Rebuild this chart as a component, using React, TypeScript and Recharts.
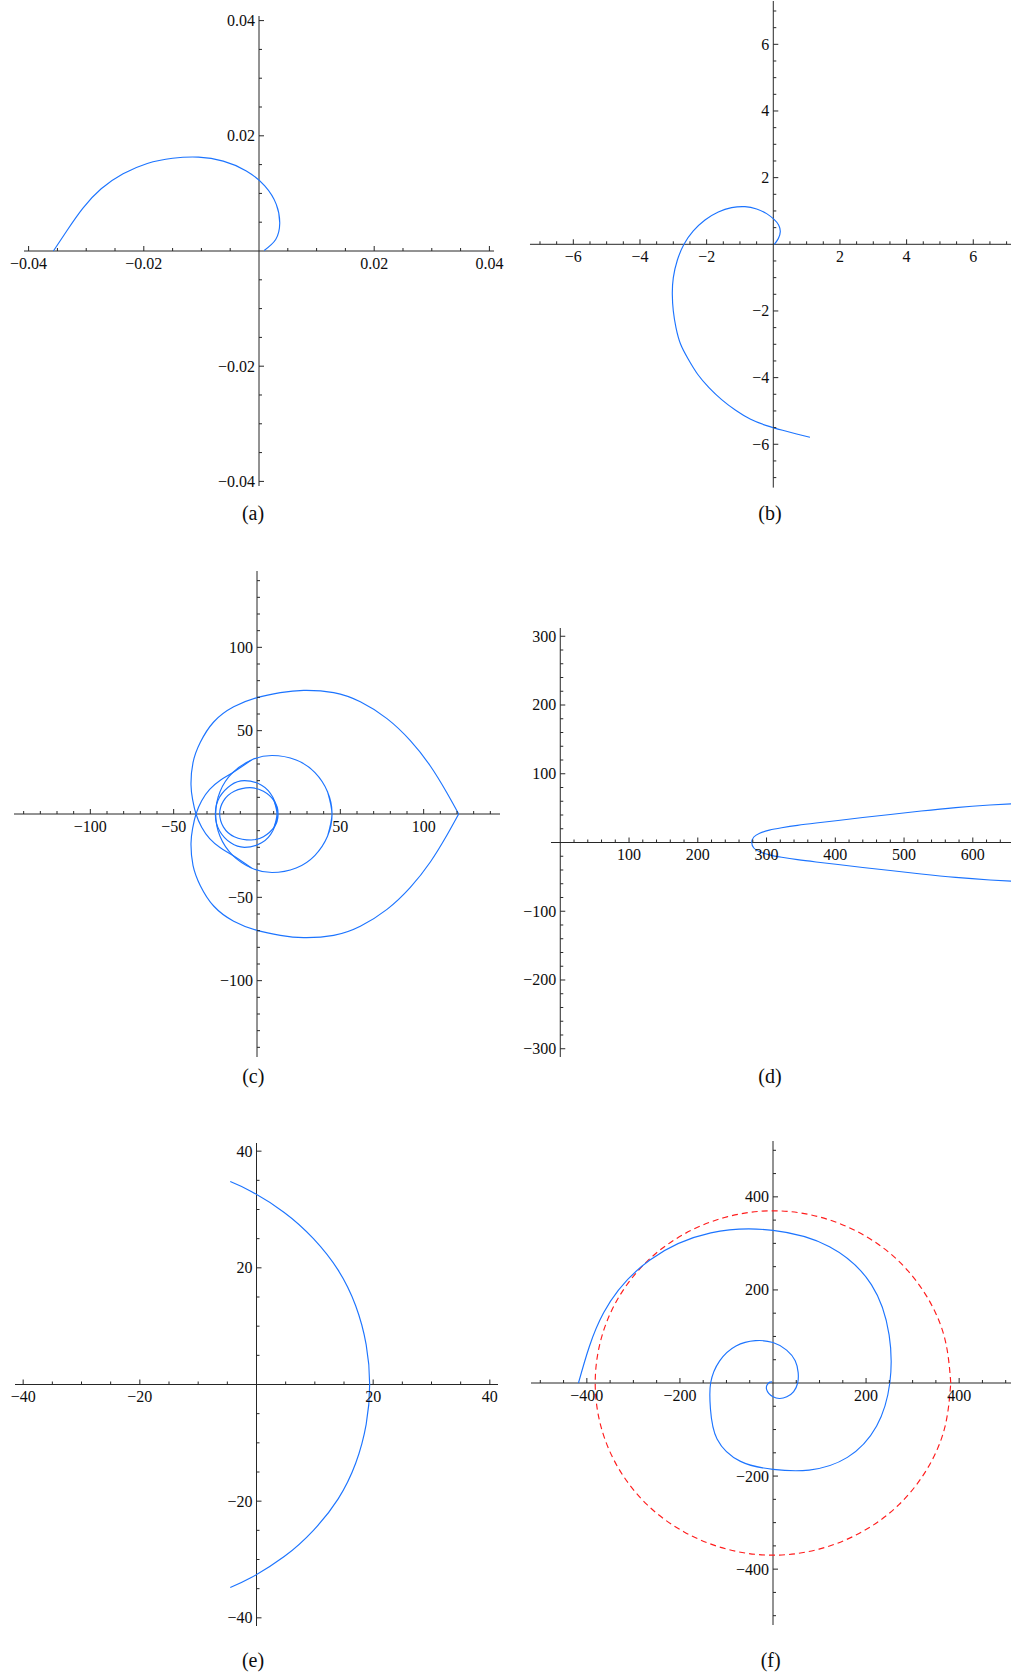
import React from "react";
import { ComposedChart, Line, XAxis, YAxis, ReferenceLine, ReferenceDot } from "recharts";

const FONT = "'Liberation Serif', 'Times New Roman', Times, serif";
const AXIS = "#262626";
const TEXT = "#0d0d0d";
const BLUE = "#1c74ff";
const RED = "#ff1c1c";

// ---------- curve samples (x, y) ----------
const curveA: number[][] = [
  [-0.0357, 0], [-0.0333, 0.0036], [-0.0306, 0.0074], [-0.0274, 0.0108], [-0.0236, 0.0134],
  [-0.0194, 0.0152], [-0.015, 0.0161], [-0.0105, 0.0163], [-0.0062, 0.0156], [-0.0022, 0.0139],
  [0.001, 0.0113], [0.003, 0.0081], [0.0036, 0.0048], [0.0029, 0.002], [0.0009, 0.0001],
];

const curveB: number[][] = [
  [0.03, 0], [0.15, 0.17], [0.21, 0.38], [0.16, 0.58], [0.03, 0.74], [-0.2, 0.92], [-0.5, 1.06],
  [-0.85, 1.13], [-1.25, 1.1], [-1.65, 0.97], [-2.05, 0.73], [-2.4, 0.4], [-2.68, 0], [-2.88, -0.48],
  [-3.0, -1.0], [-3.03, -1.5], [-3.0, -2.0], [-2.92, -2.5], [-2.78, -3.0], [-2.55, -3.45],
  [-2.27, -3.9], [-1.93, -4.3], [-1.55, -4.66], [-1.13, -4.98], [-0.68, -5.25], [-0.2, -5.44],
  [0.28, -5.58], [0.7, -5.69], [1.1, -5.79],
];

// outer lobe of (c), from the cusp round the top, across the axis and onto the middle loop
const curveCUpper: number[][] = [
  [121, 0], [114, 12.6], [104, 28.8], [92, 44], [78, 57.2], [62, 67.3], [46, 72.8], [28, 74.2],
  [14, 72.8], [0, 69.8], [-14, 64.3], [-26, 55.2], [-34, 43], [-38.4, 30.8], [-39.6, 17.6],
  [-38.6, 8.5], [-36.6, 0], [-33.2, -8], [-28.4, -14.8], [-22, -20.3], [-14.6, -24.8], [-3.3, -32.4],
];

const curveCLower: number[][] = [
  [121, 0], [114, -12.6], [104, -28.8], [92, -44], [78, -57.2], [62, -67.3], [46, -72.8], [28, -74.2],
  [14, -72.8], [0, -69.8], [-14, -64.3], [-26, -55.2], [-34, -43], [-38.4, -30.8], [-39.6, -17.6],
  [-38.6, -8.5], [-36.6, 0], [-33.2, 8], [-28.4, 14.8], [-22, 20.3], [-14.6, 24.8], [-3.3, 32.4],
];

const curveCMiddle: number[][] = [
  [42.3, -13.4], [45, 0], [42.3, 13.4], [34.8, 24.8], [23.5, 32.4], [9, 35.1], [-3.3, 32.4],
  [-14.6, 24.8], [-22.2, 13.4], [-24.8, 0], [-22.2, -13.4], [-14.6, -24.8], [-3.3, -32.4], [9, -35.1],
  [23.5, -32.4], [34.8, -24.8], [42.3, -13.4], [45, 0], [42.3, 13.4],
];

const curveCLoop1: number[][] = [
  [9.5, -10], [12, 0], [9.5, 10], [2.75, 17.3], [-7.5, 20], [-15.75, 17.3], [-22.5, 10], [-25, 0],
  [-22.5, -10], [-15.75, -17.3], [-7.5, -20], [2.75, -17.3], [9.5, -10], [12, 0], [9.5, 10],
];

const curveCLoop2: number[][] = [
  [10.3, -7.85], [12.6, 0], [10.3, 7.85], [3.85, 13.6], [-4.2, 15.8], [-13.65, 13.6], [-20.1, 7.85],
  [-22.4, 0], [-20.1, -7.85], [-13.65, -13.6], [-3.5, -15.6], [3.85, -13.6], [10.3, -7.85], [12.6, 0],
  [10.3, 7.85],
];

const curveD: number[][] = [
  [670, -57], [625, -54.5], [575, -50.8], [525, -45.8], [480, -40.8], [440, -36.3], [404, -32],
  [372, -28.3], [345, -25], [322, -21.5], [304, -18], [290, -13.5], [281.5, -8], [278.5, 0],
  [281.5, 8], [290, 13.5], [304, 18], [322, 21.5], [345, 25], [372, 28.3], [404, 32], [440, 36.3],
  [480, 40.8], [525, 45.8], [575, 50.8], [625, 54.5], [670, 57],
];

const curveE: number[][] = [
  [-4.5, 34.8], [-0.9, 33.1], [4.75, 29.5], [9.76, 25], [14, 19.6], [17, 13.5], [18.8, 6.84],
  [19.4, 0], [18.8, -6.84], [17, -13.5], [14, -19.6], [9.76, -25], [4.75, -29.5], [-0.9, -33.1],
  [-4.5, -34.8],
];

const curveF: number[][] = [
  [-418, 0], [-364, 150.8], [-264.4, 264.4], [-133.6, 322.5], [0, 328], [121.4, 292.9],
  [211.4, 211.4], [249.5, 103.4], [251, 0], [222.7, -92.3], [159.8, -159.8], [77.6, -187.1],
  [0, -185.6], [-69.8, -168.4], [-120.2, -120.2], [-134.4, -55.7], [-134, 0], [-114.6, 47.5],
  [-79.5, 79.5], [-37.7, 91], [0, 87], [29.3, 70.7], [47.7, 47.7], [54.1, 22.4], [53, 0],
  [44.4, -18.4], [29.7, -29.7], [13.8, -33.3], [0, -29.6], [-9.2, -22.2], [-13.8, -13.8],
  [-13.4, -5.5], [-9.5, 0], [-6.4, 2], [-2, 2.5],
];

const circleF: number[][] = [
  [382, 0], [369, 96], [331, 185], [270, 262], [191, 320], [99, 357], [0, 370], [-99, 357],
  [-191, 320], [-270, 262], [-331, 185], [-369, 96], [-382, 0], [-369, -96], [-331, -185],
  [-270, -262], [-191, -320], [-99, -357], [0, -370], [99, -357], [191, -320], [270, -262],
  [331, -185], [369, -96], [382, 0],
];

// ---------- tick values ----------
const majorA = [-0.04, -0.02, 0.02, 0.04];
const minorA = [-0.035, -0.03, -0.025, -0.015, -0.01, -0.005, 0.005, 0.01, 0.015, 0.025, 0.03, 0.035];
const majorB = [-6, -4, -2, 2, 4, 6];
const minorB = [-7, -6.5, -5.5, -5, -4.5, -3.5, -3, -2.5, -1.5, -1, -0.5, 0.5, 1, 1.5, 2.5, 3, 3.5, 4.5, 5, 5.5, 6.5, 7];
const majorC = [-100, -50, 50, 100];
const minorC = [-140, -130, -120, -110, -90, -80, -70, -60, -40, -30, -20, -10, 10, 20, 30, 40, 60, 70, 80, 90, 110, 120, 130, 140];
const xMajorD = [100, 200, 300, 400, 500, 600];
const xMinorD = [20, 40, 60, 80, 120, 140, 160, 180, 220, 240, 260, 280, 320, 340, 360, 380, 420, 440, 460, 480, 520, 540, 560, 580, 620, 640, 660, 680];
const yMajorD = [-300, -200, -100, 100, 200, 300];
const yMinorD = [-280, -260, -240, -220, -180, -160, -140, -120, -80, -60, -40, -20, 20, 40, 60, 80, 120, 140, 160, 180, 220, 240, 260, 280];
const majorE = [-40, -20, 20, 40];
const minorE = [-35, -30, -25, -15, -10, -5, 5, 10, 15, 25, 30, 35];
const majorF = [-400, -200, 200, 400];
const minorF = [-500, -450, -350, -300, -250, -150, -100, -50, 50, 100, 150, 250, 300, 350, 450, 500];

const captions = ["(a)", "(b)", "(c)", "(d)", "(e)", "(f)"];

// ---------- layout ----------
type Series = { key: string; points: number[][]; color: string; dash?: string };
type PanelSpec = {
  box: { left: number; top: number; width: number; height: number };
  xDomain: [number, number];
  yDomain: [number, number];
  xMajor: number[];
  xMinor: number[];
  yMajor: number[];
  yMinor: number[];
  series: Series[];
};

const ML = 52;
const MR = 12;
const MT = 12;
const MB = 30;

const fmt = (v: number) => (v < 0 ? "\u2212" : "") + String(Math.abs(v));

const panels: PanelSpec[] = [
  {
    box: { left: 23.7, top: 15.5, width: 470, height: 470 },
    xDomain: [-0.0408, 0.0408], yDomain: [-0.0408, 0.0408],
    xMajor: majorA, xMinor: minorA, yMajor: majorA, yMinor: minorA,
    series: [{ key: "a", points: curveA, color: BLUE }],
  },
  {
    box: { left: 530, top: 1.4, width: 486.6, height: 486.6 },
    xDomain: [-7.3, 7.3], yDomain: [-7.3, 7.3],
    xMajor: majorB, xMinor: minorB, yMajor: majorB, yMinor: minorB,
    series: [{ key: "b", points: curveB, color: BLUE }],
  },
  {
    box: { left: 13.7, top: 571.2, width: 486, height: 486 },
    xDomain: [-145.8, 145.8], yDomain: [-145.8, 145.8],
    xMajor: majorC, xMinor: minorC, yMajor: majorC, yMinor: minorC,
    series: [
      { key: "cu", points: curveCUpper, color: BLUE },
      { key: "cl", points: curveCLower, color: BLUE },
      { key: "cm", points: curveCMiddle, color: BLUE },
      { key: "c1", points: curveCLoop1, color: BLUE },
      { key: "c2", points: curveCLoop2, color: BLUE },
    ],
  },
  {
    box: { left: 551, top: 628, width: 483.7, height: 429 },
    xDomain: [-13.5, 690], yDomain: [-312, 312],
    xMajor: xMajorD, xMinor: xMinorD, yMajor: yMajorD, yMinor: yMinorD,
    series: [{ key: "d", points: curveD, color: BLUE }],
  },
  {
    box: { left: 15.2, top: 1143, width: 483, height: 483 },
    xDomain: [-41.4, 41.4], yDomain: [-41.4, 41.4],
    xMajor: majorE, xMinor: minorE, yMajor: majorE, yMinor: minorE,
    series: [{ key: "e", points: curveE, color: BLUE }],
  },
  {
    box: { left: 531, top: 1141.2, width: 484, height: 484 },
    xDomain: [-520, 520], yDomain: [-520, 520],
    xMajor: majorF, xMinor: minorF, yMajor: majorF, yMinor: minorF,
    series: [
      { key: "fc", points: circleF, color: RED, dash: "6 4" },
      { key: "f", points: curveF, color: BLUE },
    ],
  },
];

const captionPos: [number, number][] = [
  [253, 519.5], [770, 519.5], [253.3, 1082.5], [770, 1082.5], [253, 1666.5], [770.7, 1666.5],
];

const labelStyle: React.CSSProperties = { fontFamily: FONT, fontSize: 16 };

// ---------- tick shapes drawn at the data position of each tick ----------
const xTick = (len: number, label?: string) => (p: any) => (
  <g>
    <line x1={p.cx} y1={p.cy} x2={p.cx} y2={p.cy - len} stroke={AXIS} strokeWidth={1} />
    {label ? (
      <text x={p.cx} y={p.cy + 17.5} textAnchor="middle" style={labelStyle} fill={TEXT}>
        {label}
      </text>
    ) : null}
  </g>
);

const yTick = (len: number, label?: string) => (p: any) => (
  <g>
    <line x1={p.cx} y1={p.cy} x2={p.cx + len} y2={p.cy} stroke={AXIS} strokeWidth={1} />
    {label ? (
      <text x={p.cx - 4} y={p.cy + 5.5} textAnchor="end" style={labelStyle} fill={TEXT}>
        {label}
      </text>
    ) : null}
  </g>
);

const toPoints = (arr: number[][]) => arr.map(([x, y]) => ({ x, y }));

function Panel({ spec }: { spec: PanelSpec }) {
  const { box } = spec;
  const width = box.width + ML + MR;
  const height = box.height + MT + MB;
  return (
    <div style={{ position: "absolute", left: box.left - ML, top: box.top - MT, width, height }}>
      <ComposedChart width={width} height={height} margin={{ top: MT, right: MR, bottom: MB, left: ML }}>
        <XAxis type="number" dataKey="x" domain={spec.xDomain} allowDataOverflow hide />
        <YAxis type="number" dataKey="y" domain={spec.yDomain} allowDataOverflow hide />
        <ReferenceLine y={0} stroke={AXIS} strokeWidth={1} />
        <ReferenceLine x={0} stroke={AXIS} strokeWidth={1} />
        {spec.xMinor.map((v) => (
          <ReferenceDot key={`xm${v}`} x={v} y={0} shape={xTick(3)} />
        ))}
        {spec.xMajor.map((v) => (
          <ReferenceDot key={`xM${v}`} x={v} y={0} shape={xTick(5, fmt(v))} />
        ))}
        {spec.yMinor.map((v) => (
          <ReferenceDot key={`ym${v}`} x={0} y={v} shape={yTick(3)} />
        ))}
        {spec.yMajor.map((v) => (
          <ReferenceDot key={`yM${v}`} x={0} y={v} shape={yTick(5, fmt(v))} />
        ))}
        {spec.series.map((s) => (
          <Line
            key={s.key}
            data={toPoints(s.points)}
            dataKey="y"
            type="natural"
            stroke={s.color}
            strokeWidth={1.15}
            strokeDasharray={s.dash}
            dot={false}
            activeDot={false}
            legendType="none"
            isAnimationActive={false}
          />
        ))}
      </ComposedChart>
    </div>
  );
}

export default function App() {
  return (
    <div
      style={{
        position: "absolute",
        left: 0,
        top: 0,
        width: 1011,
        height: 1676,
        overflow: "hidden",
        background: "#ffffff",
      }}
    >
      {panels.map((p, i) => (
        <Panel key={i} spec={p} />
      ))}
      <svg width={1011} height={1676} style={{ position: "absolute", left: 0, top: 0, pointerEvents: "none" }}>
        {captions.map((c, i) => (
          <text
            key={c}
            x={captionPos[i][0]}
            y={captionPos[i][1]}
            textAnchor="middle"
            style={{ fontFamily: FONT, fontSize: 20 }}
            fill={TEXT}
          >
            {c}
          </text>
        ))}
      </svg>
    </div>
  );
}
